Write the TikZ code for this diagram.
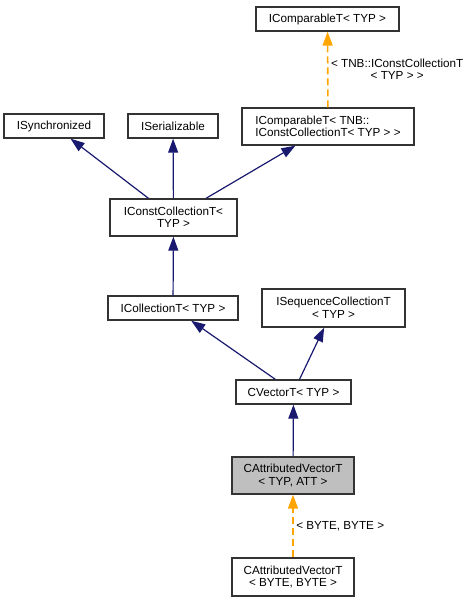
\documentclass[tikz,border=0pt]{standalone}
\usepackage{fontspec}
\setmainfont{Liberation Sans}
\usetikzlibrary{arrows.meta}
\definecolor{edgeblue}{RGB}{25,25,112}
\definecolor{edgeorange}{RGB}{255,165,0}
\definecolor{boxgray}{RGB}{191,191,191}

\begin{document}
\begin{tikzpicture}[x=1pt, y=-1pt,
    cls/.style={shape=rectangle, draw=black!80, line width=1.4pt, fill=white, inner sep=0pt,
      font=\fontsize{11.7}{12.5}\selectfont, align=center},
    inh/.style={color=edgeblue, line width=1.2pt, -{Triangle[length=14pt,width=10pt]}},
    tpl/.style={color=edgeorange, line width=1.6pt, dash pattern=on 7pt off 4pt,
      -{Triangle[length=14pt,width=10pt]}},
    lbl/.style={text=black, font=\fontsize{11.7}{12.5}\selectfont, align=center, inner sep=2.5pt}]
            \fill[white] (0,0) rectangle (475,603);
            \useasboundingbox (0,0) rectangle (475,603);

            \node[cls, minimum width=143pt, minimum height=24pt] (a) at (327.5, 19){IComparableT< TYP >};
            \node[cls, minimum width=172pt, minimum height=37pt, align=left] (b) at (328, 126.5){IComparableT< TNB::\\IConstCollectionT< TYP > >};
            \node[cls, minimum width=100pt, minimum height=24pt] (c) at (54, 126){ISynchronized};
            \node[cls, minimum width=90pt, minimum height=24pt] (d) at (173, 126){ISerializable};
            \node[cls, minimum width=127pt, minimum height=37pt] (e) at (173.5, 217.5){IConstCollectionT<\\TYP >};
            \node[cls, minimum width=130pt, minimum height=24pt] (f) at (173, 308){ICollectionT< TYP >};
            \node[cls, minimum width=143pt, minimum height=38pt] (g) at (333.5, 308){ISequenceCollectionT\\< TYP >};
            \node[cls, minimum width=115pt, minimum height=24pt] (h) at (293.5, 392){CVectorT< TYP >};
            \node[cls, minimum width=122pt, minimum height=37pt, fill=boxgray] (i) at (293, 475.5){CAttributedVectorT\\< TYP, ATT >};
            \node[cls, minimum width=122pt, minimum height=38pt] (j) at (293, 577){CAttributedVectorT\\< BYTE, BYTE >};

            \path [tpl] (b) edge node[lbl, right] {< TNB::IConstCollectionT\\< TYP > >} (a);

            \path [inh] (e) edge (c);
            \path [inh] (e) edge (d);
            \path [inh] (e) edge (b);

            \path [inh] (f) edge (e);

            \path [inh] (h) edge (f);
            \path [inh] (h) edge (g);

            \path [inh] (i) edge (h);

            \path [tpl] (j) edge node[lbl, right] {< BYTE, BYTE >} (i);
        \end{tikzpicture}
\end{document}
